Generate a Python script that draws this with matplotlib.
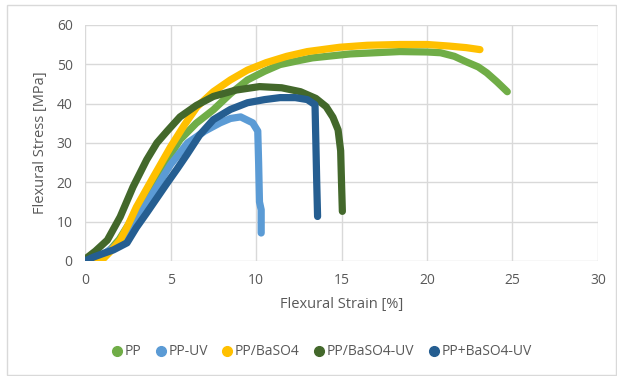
import matplotlib.pyplot as plt
from matplotlib.lines import Line2D
from matplotlib.patches import Rectangle

# PP
pp_x = [0, 0.5, 1, 1.5, 2, 3, 4, 5, 5.55, 6.5, 7.5, 8.5, 9.5, 10.5, 11.4, 12.6, 13.3, 15.5, 18.4, 20,
        20.8, 21.6, 22.3, 23, 23.5, 24.1, 24.7]
pp_y = [0, 0.3, 1.2, 3, 5.5, 12.5, 20, 27, 30.8, 35, 38.4, 42.5, 46, 48.2, 49.9, 51, 51.6, 52.6, 53.2, 53.1,
        52.9, 52, 50.6, 49.3, 47.8, 45.5, 43]

# PP-UV
ppuv_x = [0, 0.5, 1, 2, 3, 4, 5, 6, 7, 7.9, 8.5, 9.1, 9.8, 10.1, 10.15, 10.2, 10.3, 10.3]
ppuv_y = [0, 0.5, 1.5, 4.5, 10.5, 17.5, 24.5, 30, 33, 35.1, 36.2, 36.6, 35.1, 33, 25, 15, 13, 7.1]

# PP/BaSO4
ppb_x = [0, 0.5, 1.05, 1.5, 2.05, 2.5, 3, 4, 5, 5.8, 6.55, 7.5, 8.5, 9.5, 10.6, 11.8, 13, 14.9, 16.5,
         18.4, 20, 21.3, 22.3, 23.1]
ppb_y = [0, 0, 0.5, 2.5, 5.3, 9, 13.7, 21.4, 29, 34.5, 39.2, 43, 46, 48.5, 50.4, 52, 53.2, 54.3, 54.8,
         55, 55, 54.6, 54.2, 53.7]

# PP/BaSO4-UV
ppbuv_x = [0, 0.1, 0.6, 1.3, 2.05, 2.8, 3.6, 4.2, 4.8, 5.55, 6.5, 7.5, 8.8, 10.2, 11.5, 12.6, 13.5, 14.1,
           14.5, 14.8, 14.95, 15.0, 15.05]
ppbuv_y = [0, 0.8, 2.5, 5.3, 11.2, 18.8, 25.7, 30, 33, 36.6, 39.5, 41.8, 43.4, 44.3, 44, 43, 41.3, 39.2,
           36.5, 33.3, 28, 20, 12.6]

# PP+BaSO4-UV
pbuv_x = [0, 0.5, 1.0, 1.65, 2.45, 3.0, 3.6, 4.2, 4.8, 5.4, 5.95, 6.7, 7.5, 8.5, 9.5, 10.5, 11.4, 12.3,
          13, 13.45, 13.5, 13.55, 13.6]
pbuv_y = [0, 1, 1.8, 2.8, 4.6, 8.5, 12.2, 16, 19.8, 23.5, 27, 32, 35.9, 38.5, 40.2, 41, 41.5, 41.5,
          41, 39.7, 30, 20, 11.3]

series = [
    ('PP', pp_x, pp_y, '#70AD47'),
    ('PP-UV', ppuv_x, ppuv_y, '#5B9BD5'),
    ('PP/BaSO4', ppb_x, ppb_y, '#FFC000'),
    ('PP/BaSO4-UV', ppbuv_x, ppbuv_y, '#43682B'),
    ('PP+BaSO4-UV', pbuv_x, pbuv_y, '#255E91'),
]

plt.rcParams['font.family'] = ['Open Sans', 'DejaVu Sans']

fig = plt.figure(figsize=(6.17, 3.76), dpi=100)
ax = fig.add_axes([0.138, 0.306, 0.831, 0.628])

for name, xs, ys, c in series:
    ax.plot(xs, ys, color=c, lw=5.2, solid_capstyle='round', solid_joinstyle='round', label=name)

ax.set_xlim(0, 30)
ax.set_ylim(0, 60)
ax.set_xticks(range(0, 31, 5))
ax.set_yticks(range(0, 61, 10))
ax.grid(True, color='#D9D9D9', lw=1)
ax.set_axisbelow(True)
for s in ax.spines.values():
    s.set_visible(False)
ax.tick_params(length=0, labelsize=10, colors='#595959', pad=9)
ax.set_xlabel('Flexural Strain [%]', fontsize=10.5, color='#595959', labelpad=6)
ax.set_ylabel('Flexural Stress [MPa]', fontsize=10.5, color='#595959', labelpad=6)

handles = [Line2D([], [], ls='', marker='o', ms=7, color=c) for _, _, _, c in series]
fig.legend(handles, [n for n, _, _, _ in series], loc='center', bbox_to_anchor=(0.52, 0.064),
           ncol=5, frameon=False, fontsize=10, handletextpad=0.05, columnspacing=0.9,
           labelcolor='#595959', handlelength=1)

fig.patches.append(Rectangle((7 / 617, 1 / 376), 609 / 617, 370 / 376, transform=fig.transFigure,
                             fill=False, ec='#D9D9D9', lw=1))

fig.savefig('out.png', dpi=100)
